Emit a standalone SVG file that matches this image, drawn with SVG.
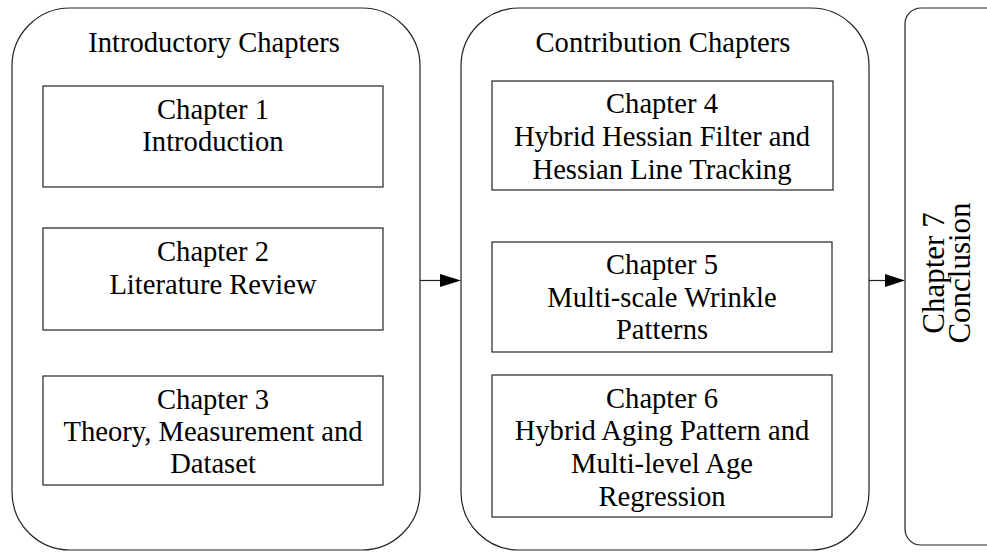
<svg xmlns="http://www.w3.org/2000/svg" width="987" height="552" viewBox="0 0 987 552">
  <style>
    .group { fill: #fff; stroke: #222; stroke-width: 1.2; }
    .box { fill: #fff; stroke: #222; stroke-width: 1.2; }
    text { font-family: "Liberation Serif", "Times New Roman", serif; font-size: 28.6px; fill: #000; text-anchor: middle; }
    .vert { font-size: 31px; }
    .conn { stroke: #222; stroke-width: 1.2; fill: none; }
    .head { fill: #000; stroke: none; }
  </style>
  <rect width="987" height="552" fill="#fff"/>

  <!-- Introductory chapters -->
  <g id="introductory">
    <rect class="group" x="12" y="8" width="408" height="542" rx="58" ry="58"/>
    <text x="214" y="52">Introductory Chapters</text>
  </g>
  <g id="chapter1">
    <rect class="box" x="43" y="86" width="340" height="101"/>
    <text x="213" y="119">Chapter 1</text>
    <text x="213" y="151">Introduction</text>
  </g>
  <g id="chapter2">
    <rect class="box" x="43" y="228" width="340" height="102"/>
    <text x="213" y="261">Chapter 2</text>
    <text x="213" y="294">Literature Review</text>
  </g>
  <g id="chapter3">
    <rect class="box" x="43" y="376" width="340" height="109"/>
    <text x="213" y="409">Chapter 3</text>
    <text x="213" y="441">Theory, Measurement and</text>
    <text x="213" y="473">Dataset</text>
  </g>

  <!-- Contribution chapters -->
  <g id="contribution">
    <rect class="group" x="461" y="8" width="408" height="542" rx="58" ry="58"/>
    <text x="663" y="52">Contribution Chapters</text>
  </g>
  <g id="chapter4">
    <rect class="box" x="492" y="81" width="341" height="109"/>
    <text x="662" y="113">Chapter 4</text>
    <text x="662" y="146">Hybrid Hessian Filter and</text>
    <text x="662" y="179">Hessian Line Tracking</text>
  </g>
  <g id="chapter5">
    <rect class="box" x="492" y="242" width="340" height="110"/>
    <text x="662" y="274">Chapter 5</text>
    <text x="662" y="307">Multi-scale Wrinkle</text>
    <text x="662" y="339">Patterns</text>
  </g>
  <g id="chapter6">
    <rect class="box" x="492" y="375" width="340" height="142"/>
    <text x="662" y="408">Chapter 6</text>
    <text x="662" y="440">Hybrid Aging Pattern and</text>
    <text x="662" y="473">Multi-level Age</text>
    <text x="662" y="506">Regression</text>
  </g>

  <!-- Conclusion -->
  <g id="chapter7">
    <rect class="group" x="905" y="8" width="110" height="537" rx="16" ry="16"/>
    <text class="vert" transform="translate(944 273) rotate(-90)">Chapter 7</text>
    <text class="vert" transform="translate(970 273) rotate(-90)">Conclusion</text>
  </g>

  <!-- Connectors -->
  <g id="connectors">
    <line class="conn" x1="420" y1="280.5" x2="441" y2="280.5"/>
    <polygon class="head" points="440,274 461,280.5 440,287"/>
    <line class="conn" x1="869" y1="280.5" x2="886" y2="280.5"/>
    <polygon class="head" points="885,274 905,280.5 885,287"/>
  </g>
</svg>
